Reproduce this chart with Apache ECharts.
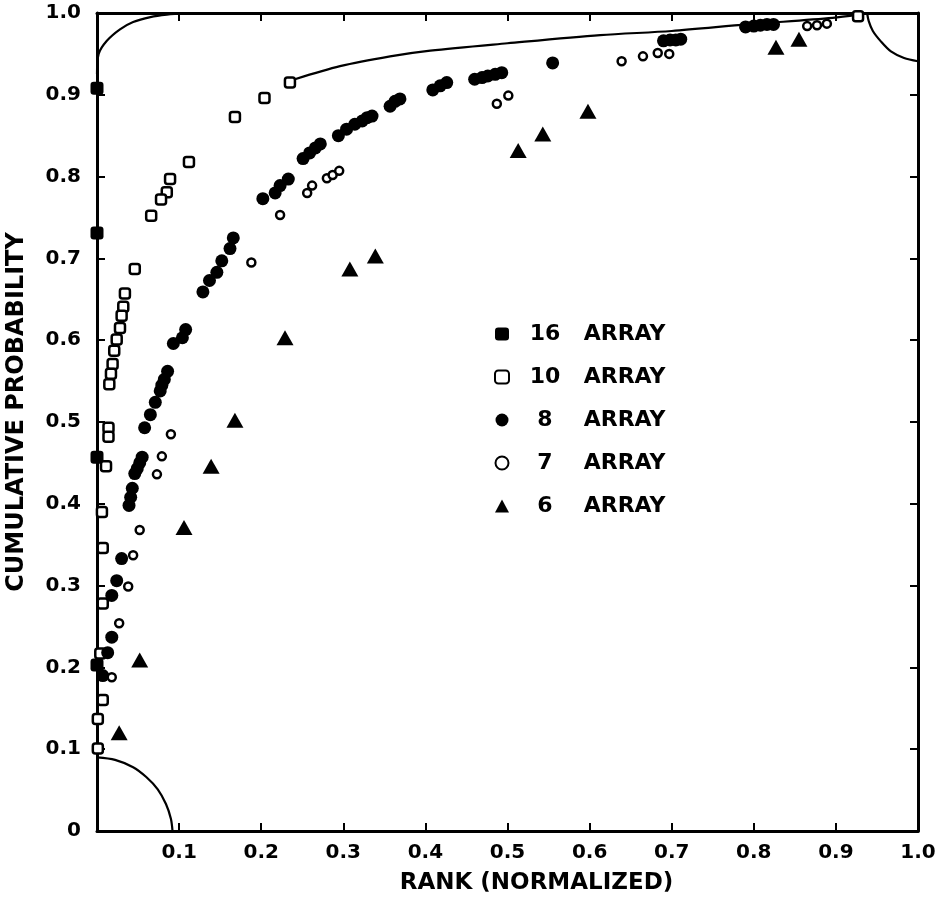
<!DOCTYPE html>
<html><head><meta charset="utf-8">
<script src="https://cdn.jsdelivr.net/npm/echarts@6/dist/echarts.min.js"></script>
<style>html,body{margin:0;padding:0;background:#fff}#c{width:940px;height:898px}</style>
</head><body><div id="c"></div>
<script>
// ---- data ----
const seriesNames = ['16 ARRAY', '10 ARRAY', '8 ARRAY', '7 ARRAY', '6 ARRAY'];

const array16 = [[0,0.908],[0,0.731],[0,0.457],[0,0.203]];

const array10 = [[0.927,0.996],[0.235,0.915],[0.204,0.896],[0.168,0.873],[0.112,0.818],
  [0.089,0.797],[0.085,0.781],[0.078,0.772],[0.066,0.752],[0.046,0.687],[0.034,0.657],
  [0.032,0.641],[0.030,0.630],[0.028,0.615],[0.024,0.601],[0.021,0.587],[0.019,0.571],
  [0.017,0.559],[0.015,0.546],[0.014,0.493],[0.014,0.482],[0.011,0.446],[0.006,0.390],
  [0.007,0.346],[0.007,0.278],[0.004,0.217],[0.007,0.160],[0.001,0.137],[0.001,0.101]];

const array8 = [[0.007,0.190],[0.013,0.218],[0.018,0.237],[0.018,0.288],[0.024,0.306],
  [0.030,0.333],[0.039,0.398],[0.041,0.408],[0.043,0.419],[0.046,0.437],[0.049,0.443],
  [0.052,0.450],[0.055,0.457],[0.058,0.493],[0.065,0.509],[0.071,0.524],[0.077,0.538],
  [0.079,0.545],[0.082,0.552],[0.086,0.562],[0.093,0.596],[0.104,0.603],[0.108,0.613],
  [0.129,0.659],[0.137,0.673],[0.146,0.683],[0.152,0.697],[0.162,0.712],[0.166,0.725],
  [0.202,0.773],[0.217,0.780],[0.223,0.789],[0.233,0.797],[0.251,0.822],[0.259,0.829],
  [0.266,0.835],[0.272,0.840],[0.294,0.850],[0.304,0.858],[0.314,0.864],[0.323,0.868],
  [0.329,0.872],[0.335,0.874],[0.357,0.886],[0.363,0.892],[0.369,0.895],[0.409,0.906],
  [0.418,0.911],[0.426,0.915],[0.460,0.919],[0.469,0.921],[0.476,0.923],[0.485,0.925],
  [0.493,0.927],[0.555,0.939],[0.690,0.966],[0.698,0.967],[0.705,0.967],[0.711,0.968],
  [0.790,0.983],[0.800,0.984],[0.808,0.985],[0.816,0.986],[0.824,0.986]];

const array7 = [[0.018,0.188],[0.027,0.254],[0.038,0.299],[0.044,0.337],[0.052,0.368],
  [0.073,0.436],[0.079,0.458],[0.090,0.485],[0.188,0.695],[0.223,0.753],[0.256,0.780],
  [0.262,0.789],[0.280,0.798],[0.287,0.802],[0.295,0.807],[0.487,0.889],[0.501,0.899],
  [0.639,0.941],[0.665,0.947],[0.683,0.951],[0.697,0.950],[0.865,0.984],[0.877,0.985],
  [0.889,0.987]];

const array6 = [[0.027,0.120],[0.052,0.209],[0.106,0.371],[0.139,0.446],[0.168,0.502],
  [0.229,0.603],[0.308,0.687],[0.339,0.703],[0.513,0.832],[0.543,0.852],[0.598,0.880],
  [0.827,0.958],[0.855,0.968]];

// hand-drawn curves, points
const curveTopLeft = [[0,0.925],[0.002,0.950],[0.012,0.966],[0.028,0.980],[0.044,0.989],
  [0.065,0.995],[0.085,0.998],[0.11,1.0]];
const curveUpper = [[0.241,0.919],[0.296,0.935],[0.357,0.947],[0.406,0.954],[0.5,0.963],
  [0.613,0.973],[0.7,0.978],[0.792,0.986],[0.896,0.994],[0.927,0.998]];
const arcBottomLeft = [[0,0.090],[0.022,0.087],[0.044,0.078],[0.060,0.066],[0.074,0.051],
  [0.084,0.033],[0.090,0.015],[0.092,0]];
const arcTopRight = [[0.938,1.0],[0.940,0.990],[0.945,0.978],[0.955,0.965],[0.967,0.953],
  [0.983,0.945],[1.0,0.941]];

const tickMin = 0, tickMax = 1, tickStep = 0.1;

// ---- chart ----
const FONT = 'DejaVu Sans';
const BLACK = '#000';
const fmt = v => (Math.abs(v) < 1e-9 ? '0' : v.toFixed(1));

function axisCommon(extra) {
  return Object.assign({
    type: 'value', min: tickMin, max: tickMax, interval: tickStep,
    axisLine: { show: true, onZero: false, lineStyle: { color: BLACK, width: 3 } },
    axisTick: { show: true, inside: true, length: 8, lineStyle: { color: BLACK, width: 2 } },
    splitLine: { show: false },
  }, extra);
}

const chart = echarts.init(document.getElementById('c'), null, { renderer: 'canvas' });

function lineSeries(data) {
  return {
    type: 'line', data, xAxisIndex: 0, yAxisIndex: 0, smooth: 0.3,
    symbol: 'none', silent: true, z: 1,
    lineStyle: { color: BLACK, width: 2.2, opacity: 1 }
  };
}

chart.setOption({
  backgroundColor: '#fff',
  animation: false,
  textStyle: { fontFamily: FONT },
  grid: { left: 97, right: 22, top: 13, bottom: 67, containLabel: false, outerBoundsMode: 'none' },
  xAxis: [
    axisCommon({
      position: 'bottom',
      name: 'RANK (NORMALIZED)', nameLocation: 'middle', nameGap: 41,
      nameTextStyle: { fontFamily: FONT, fontWeight: 'bold', fontSize: 23, color: BLACK, padding: [0, 0, 0, 58] },
      axisLabel: { formatter: fmt, showMinLabel: false, fontFamily: FONT, fontWeight: 'bold', fontSize: 20, color: BLACK, margin: 12 }
    }),
    axisCommon({ position: 'top', axisLabel: { show: false } })
  ],
  yAxis: [
    axisCommon({
      position: 'left',
      name: 'CUMULATIVE PROBABILITY', nameLocation: 'middle', nameGap: 68,
      nameTextStyle: { fontFamily: FONT, fontWeight: 'bold', fontSize: 24, color: BLACK, padding: [0, 0, 0, 20] },
      axisLabel: { formatter: fmt, fontFamily: FONT, fontWeight: 'bold', fontSize: 20, color: BLACK, margin: 16 }
    }),
    axisCommon({ position: 'right', axisLabel: { show: false } })
  ],
  legend: {
    orient: 'vertical', left: 489, top: 318,
    itemWidth: 14, itemHeight: 13, itemGap: 21,
    data: seriesNames,
    formatter: name => {
      const parts = name.split(' ');
      return '{n|' + parts[0] + '}{a| ' + parts.slice(1).join(' ') + '}';
    },
    textStyle: {
      fontFamily: FONT, fontWeight: 'bold', fontSize: 22, color: BLACK,
      rich: {
        n: { width: 62, align: 'right', fontFamily: FONT, fontWeight: 'bold', fontSize: 22, color: BLACK },
        a: { fontFamily: FONT, fontWeight: 'bold', fontSize: 22, color: BLACK }
      }
    }
  },
  series: [
    lineSeries(curveTopLeft),
    lineSeries(curveUpper),
    lineSeries(arcBottomLeft),
    lineSeries(arcTopRight),
    { name: seriesNames[0], type: 'scatter', data: array16, symbol: 'roundRect', symbolSize: 13,
      itemStyle: { color: BLACK, opacity: 1 }, z: 3 },
    { name: seriesNames[1], type: 'scatter', data: array10, symbol: 'roundRect', symbolSize: 10,
      itemStyle: { color: '#fff', borderColor: BLACK, borderWidth: 2.5, opacity: 1 }, z: 3 },
    { name: seriesNames[2], type: 'scatter', data: array8, symbol: 'circle', symbolSize: 13,
      itemStyle: { color: BLACK, opacity: 1 }, z: 3 },
    { name: seriesNames[3], type: 'scatter', data: array7, symbol: 'circle', symbolSize: 8,
      itemStyle: { color: '#fff', borderColor: BLACK, borderWidth: 2.5, opacity: 1 }, z: 4 },
    { name: seriesNames[4], type: 'scatter', data: array6, symbol: 'triangle', symbolSize: [17, 15],
      itemStyle: { color: BLACK, opacity: 1 }, z: 3 }
  ]
});
</script>
</body></html>
